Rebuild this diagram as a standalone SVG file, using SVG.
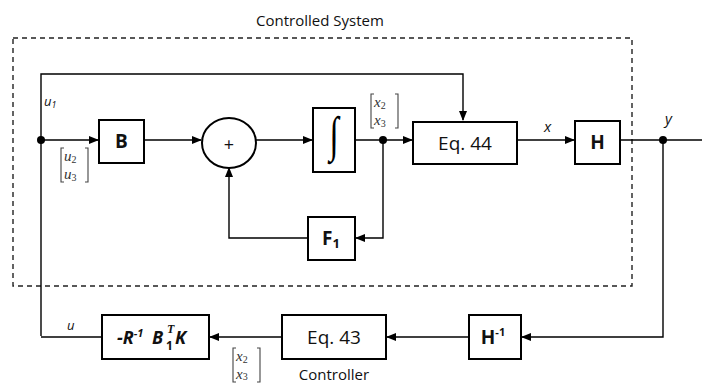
<svg xmlns="http://www.w3.org/2000/svg" width="702" height="383" viewBox="0 0 702 383">
<defs>
<marker id="ah" markerWidth="10" markerHeight="8" refX="9" refY="4" orient="auto" markerUnits="userSpaceOnUse">
<path d="M0,0 L10,4 L0,8 Z" fill="#000"/>
</marker>
</defs>
<style>
.box{fill:#fff;stroke:#000;stroke-width:2}
.ln{fill:none;stroke:#000;stroke-width:1.4}
.arr{fill:none;stroke:#000;stroke-width:1.4;marker-end:url(#ah)}
.lbl{font-family:"Open Sans","Liberation Sans",sans-serif;fill:#111}
.bl{font-family:"Open Sans","Liberation Sans",sans-serif;font-weight:bold;fill:#111}
.it{font-family:"Open Sans","Liberation Sans",sans-serif;font-style:italic;fill:#111}
.mx{font-family:"Liberation Serif","DejaVu Serif",serif;font-style:italic;fill:#333;font-size:15px}
.sub{font-size:10px;font-style:normal}
.br{fill:none;stroke:#444;stroke-width:1.1}
</style>
<rect x="13" y="38" width="619" height="248" fill="none" stroke="#222" stroke-width="1.4" stroke-dasharray="5,4"/>
<text class="lbl" x="320" y="26" font-size="15" text-anchor="middle">Controlled System</text>
<text class="lbl" x="334" y="380" font-size="15" text-anchor="middle">Controller</text>
<g id="connectors">
<path class="arr" d="M41,336 L41,74 L463,74 L463,120"/>
<path class="arr" d="M41,140 L98,140"/>
<path class="arr" d="M144,140 L201,140"/>
<path class="arr" d="M256,140 L312,140"/>
<path class="arr" d="M355,140 L412,140"/>
<path class="arr" d="M383,140 L383,238 L356,238"/>
<path class="arr" d="M308,238 L229,238 L229,168"/>
<path class="arr" d="M517,140 L574,140"/>
<path class="ln" d="M620,140 L702,140"/>
<path class="arr" d="M663,140 L663,337 L522,337"/>
<path class="arr" d="M469,337 L387,337"/>
<path class="arr" d="M282,337 L210,337"/>
<path class="ln" d="M102,337 L41,337"/>
<circle cx="41" cy="140" r="4" fill="#000"/>
<circle cx="383" cy="140" r="4" fill="#000"/>
<circle cx="663" cy="140" r="4" fill="#000"/>
</g>
<g id="labels">
<text class="it" x="44" y="106" font-size="13">u<tspan font-size="9" dy="2">1</tspan></text>
<text class="it" x="544" y="132" font-size="15">x</text>
<text class="it" x="665" y="124" font-size="15">y</text>
<text class="it" x="67" y="330" font-size="13">u</text>
<g id="m1">
<path class="br" d="M64,148 L61,148 L61,182 L64,182 M85,148 L88,148 L88,182 L85,182"/>
<text class="mx" x="64" y="161">u<tspan class="sub" dy="2">2</tspan></text>
<text class="mx" x="64" y="179">u<tspan class="sub" dy="2">3</tspan></text>
</g>
<g id="m2">
<path class="br" d="M374,94 L371,94 L371,128 L374,128 M395,94 L398,94 L398,128 L395,128"/>
<text class="mx" x="374" y="107">x<tspan class="sub" dy="2">2</tspan></text>
<text class="mx" x="374" y="125">x<tspan class="sub" dy="2">3</tspan></text>
</g>
<g id="m3">
<path class="br" d="M236,348 L233,348 L233,382 L236,382 M257,348 L260,348 L260,382 L257,382"/>
<text class="mx" x="236" y="361">x<tspan class="sub" dy="2">2</tspan></text>
<text class="mx" x="236" y="379">x<tspan class="sub" dy="1">3</tspan></text>
</g>
</g>
<g id="B">
<rect class="box" x="99" y="120" width="45" height="43"/>
<text class="bl" x="121.5" y="148" font-size="19" text-anchor="middle">B</text>
</g>
<g id="sum">
<ellipse cx="229" cy="143" rx="27" ry="25" fill="#fff" stroke="#000" stroke-width="2"/>
<text class="lbl" x="229" y="151" font-size="18" text-anchor="middle">+</text>
</g>
<g id="integrator">
<rect class="box" x="313" y="108" width="42" height="64"/>
<text x="0" y="0" font-size="34" text-anchor="middle" font-family="Liberation Serif, serif" fill="#000" transform="translate(334,151) scale(1,1.45)">∫</text>
</g>
<g id="eq44">
<rect class="box" x="413" y="122" width="104" height="42"/>
<text class="lbl" x="465" y="150" font-size="19" text-anchor="middle">Eq. 44</text>
</g>
<g id="H">
<rect class="box" x="575" y="121" width="45" height="43"/>
<text class="bl" x="597.5" y="149" font-size="19" text-anchor="middle">H</text>
</g>
<g id="F1">
<rect class="box" x="308" y="217" width="47" height="43"/>
<text class="bl" x="331" y="245" font-size="19" text-anchor="middle">F<tspan font-size="13" dy="3">1</tspan></text>
</g>
<g id="Hinv">
<rect class="box" x="469" y="315" width="52" height="44"/>
<text class="bl" x="493" y="344" font-size="19" text-anchor="middle">H<tspan font-size="11" dy="-8">-1</tspan></text>
</g>
<g id="eq43">
<rect class="box" x="282" y="315" width="104" height="44"/>
<text class="lbl" x="334" y="344" font-size="19" text-anchor="middle">Eq. 43</text>
</g>
<g id="controller">
<rect class="box" x="102" y="315" width="107" height="44"/>
<text font-family="Open Sans, Liberation Sans, sans-serif" font-weight="bold" font-style="italic" fill="#111" font-size="18" x="117" y="344">-R<tspan font-size="11" dy="-7">-1</tspan></text>
<text font-family="Open Sans, Liberation Sans, sans-serif" font-weight="bold" font-style="italic" fill="#111" font-size="18" x="152" y="344">B</text>
<text font-family="Liberation Serif, serif" font-weight="bold" font-style="italic" fill="#111" font-size="12" x="167" y="333">T</text>
<text font-family="Open Sans, Liberation Sans, sans-serif" font-weight="bold" fill="#111" font-size="12" x="166" y="350">1</text>
<text font-family="Open Sans, Liberation Sans, sans-serif" font-weight="bold" font-style="italic" fill="#111" font-size="18" x="175" y="344">K</text>
</g>
</svg>
